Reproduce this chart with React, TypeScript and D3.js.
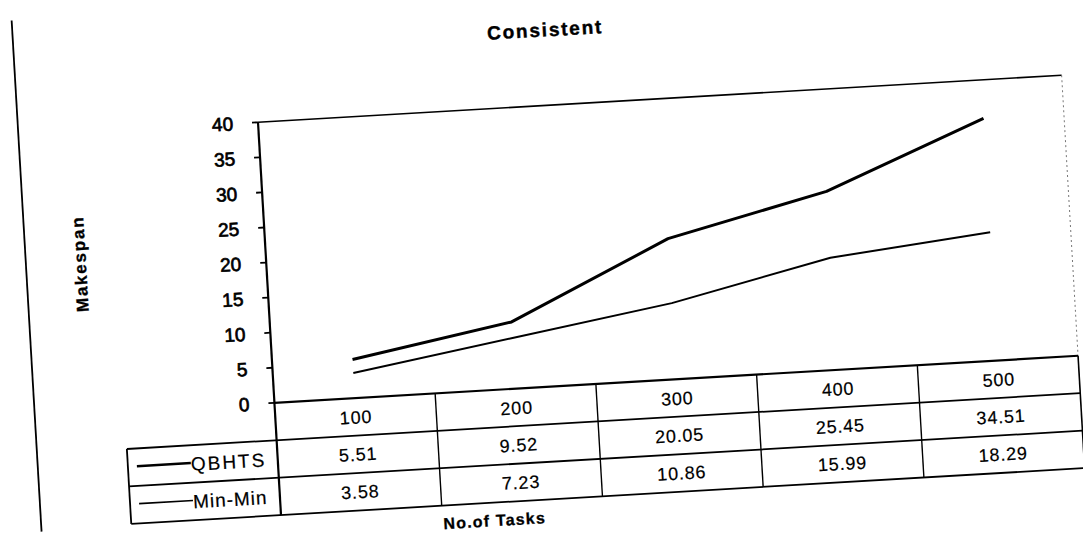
import React from "react";
import * as d3 from "d3";

// Number of tasks per run
const categories: string[] = ["100", "200", "300", "400", "500"];

// Makespan for each scheduler
const qbhts: number[] = [5.51, 9.52, 20.05, 25.45, 34.51];
const minMin: number[] = [3.58, 7.23, 10.86, 15.99, 18.29];

const seriesNames: string[] = ["QBHTS", "Min-Min"];
const yTicks: number[] = [0, 5, 10, 15, 20, 25, 30, 35, 40];

const W = 1083;
const H = 536;
const FONT = "'Liberation Sans', Arial, Helvetica, sans-serif";

const plot = { left: 267, right: 1072, top: 106, bottom: 387 };
const rowH = 37.5;
const legendLeft = 117;

export default function App() {
  const x = d3.scaleBand<string>().domain(categories).range([plot.left, plot.right]).padding(0);
  const y = d3.scaleLinear().domain([0, 40]).range([plot.bottom, plot.top]);
  const cx = (c: string) => (x(c) as number) + x.bandwidth() / 2;

  const line = d3
    .line<number>()
    .x((_, i) => cx(categories[i]))
    .y((v) => y(v));

  const series = [
    { name: seriesNames[0], values: qbhts, width: 3, sample: 2.4 },
    { name: seriesNames[1], values: minMin, width: 2, sample: 1.6 },
  ];

  const rowTop = (r: number) => plot.bottom + r * rowH; // r=0 header row
  const tableBottom = rowTop(3);

  return (
    <svg
      width={W}
      height={H}
      style={{ position: "absolute", left: 0, top: 0, background: "#fff" }}
      fontFamily={FONT}
    >
      <rect x={0} y={0} width={W} height={H} fill="#fff" />
      <g transform="rotate(-3.35 541 268)">
        {/* chart frame edge */}
        <line x1={27} y1={-10} x2={27} y2={502} stroke="#000" strokeWidth={1.8} />

        {/* title */}
        <text x={559} y={37} textAnchor="middle" fontSize={19} fontWeight="bold" letterSpacing={1.8}
          stroke="#000" strokeWidth={0.4}>
          Consistent
        </text>

        {/* y-axis title */}
        <text
          transform="translate(87 237) rotate(-90)"
          textAnchor="middle"
          fontSize={17}
          fontWeight="bold"
          letterSpacing={1.8}
          stroke="#000"
          strokeWidth={0.3}
        >
          Makespan
        </text>

        {/* plot frame */}
        <line x1={plot.left} y1={plot.top} x2={plot.right} y2={plot.top} stroke="#000" strokeWidth={1.6} />
        <line
          x1={plot.right}
          y1={plot.top}
          x2={plot.right}
          y2={plot.bottom}
          stroke="#777"
          strokeWidth={1}
          strokeDasharray="2 3"
        />

        {/* y axis */}
        <line x1={plot.left} y1={plot.top} x2={plot.left} y2={tableBottom} stroke="#000" strokeWidth={2.2} />
        {yTicks.map((t) => (
          <g key={t}>
            <line x1={plot.left - 6} y1={y(t)} x2={plot.left} y2={y(t)} stroke="#000" strokeWidth={1.8} />
            <text x={242} y={y(t)} dy="0.35em" textAnchor="end" fontSize={19} stroke="#000" strokeWidth={0.7}>
              {t}
            </text>
          </g>
        ))}

        {/* series lines */}
        {series.map((s) => (
          <path
            key={s.name}
            d={line(s.values) || ""}
            fill="none"
            stroke="#000"
            strokeWidth={s.width}
            strokeLinejoin="round"
          />
        ))}

        {/* data table */}
        <line x1={plot.left} y1={plot.bottom} x2={plot.right} y2={plot.bottom} stroke="#000" strokeWidth={2.2} />
        {[1, 2, 3].map((r) => (
          <line
            key={r}
            x1={legendLeft}
            y1={rowTop(r)}
            x2={plot.right}
            y2={rowTop(r)}
            stroke="#000"
            strokeWidth={1.8}
          />
        ))}
        <line x1={legendLeft} y1={rowTop(1)} x2={legendLeft} y2={tableBottom} stroke="#000" strokeWidth={1.8} />
        {categories.map((c, i) => (
          <line
            key={"v" + c}
            x1={(x(c) as number) + x.bandwidth()}
            y1={plot.bottom}
            x2={(x(c) as number) + x.bandwidth()}
            y2={tableBottom}
            stroke="#000"
            strokeWidth={i === categories.length - 1 ? 1.6 : 1.4}
          />
        ))}

        {/* header row: categories */}
        {categories.map((c) => (
          <text key={"h" + c} x={cx(c)} y={rowTop(0) + rowH / 2} dy="0.38em" textAnchor="middle" fontSize={18} letterSpacing={0.8}
            stroke="#000" strokeWidth={0.2}>
            {c}
          </text>
        ))}

        {/* value rows with legend keys */}
        {series.map((s, r) => (
          <g key={"row" + s.name}>
            <line
              x1={legendLeft + 9}
              y1={rowTop(r + 1) + rowH / 2 - 1}
              x2={legendLeft + 63}
              y2={rowTop(r + 1) + rowH / 2 - 1}
              stroke="#000"
              strokeWidth={s.sample}
            />
            <text
              x={legendLeft + 63}
              y={rowTop(r + 1) + rowH / 2}
              dy="0.36em"
              fontSize={19}
              letterSpacing={r === 0 ? 2 : 1}
              stroke="#000"
              strokeWidth={0.2}
            >
              {s.name}
            </text>
            {s.values.map((v, i) => (
              <text
                key={i}
                x={cx(categories[i])}
                y={rowTop(r + 1) + rowH / 2}
                dy="0.36em"
                textAnchor="middle"
                fontSize={18}
                letterSpacing={0.8}
                stroke="#000"
                strokeWidth={0.2}
              >
                {v.toFixed(2)}
              </text>
            ))}
          </g>
        ))}

        {/* x-axis title */}
        <text x={480} y={523} textAnchor="middle" fontSize={16} fontWeight="bold" letterSpacing={1.2}
          stroke="#000" strokeWidth={0.3}>
          No.of Tasks
        </text>
      </g>
    </svg>
  );
}
